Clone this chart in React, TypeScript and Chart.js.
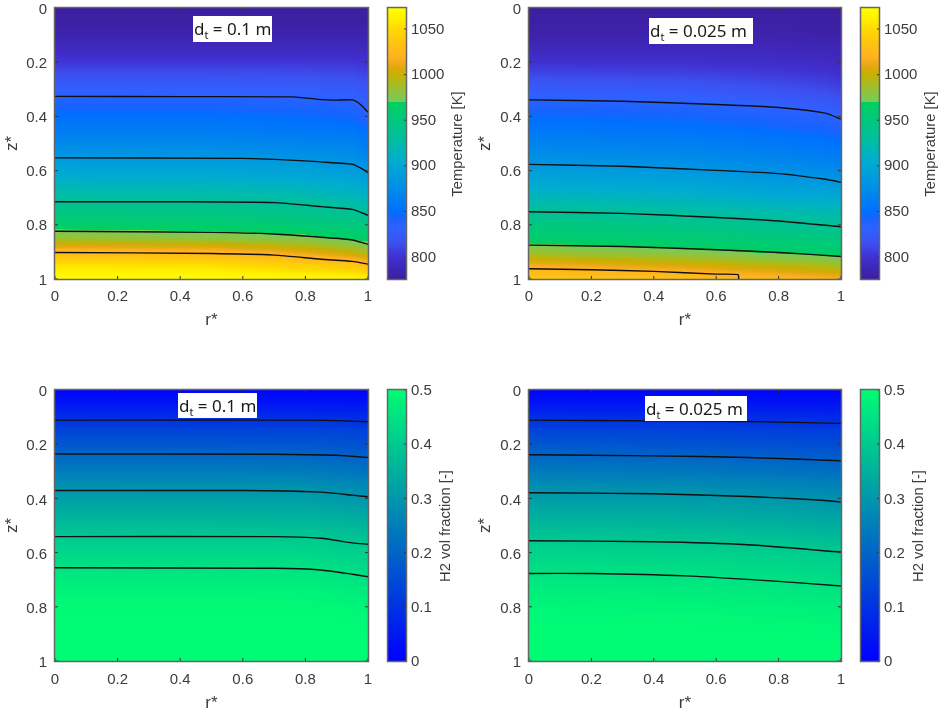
import { useEffect, useRef } from 'react'
import Chart from 'chart.js/auto'

// shared grid of the fields
const rCols = [0, 0.5, 0.8, 0.95, 1]
const zRows = [0, 0.05, 0.1, 0.15, 0.2, 0.25, 0.3, 0.35, 0.4, 0.45, 0.5, 0.55, 0.6, 0.65, 0.7, 0.75, 0.8, 0.85, 0.9, 0.95, 1]
const axisTicks = [0, 0.2, 0.4, 0.6, 0.8, 1]
const tempTicks = [800, 850, 900, 950, 1000, 1050]
const h2Ticks = [0, 0.1, 0.2, 0.3, 0.4, 0.5]
const tempRange = [776, 1073]
const h2Range = [0, 0.5]

// temperature [K], one list per entry of rCols
const tempWide = [
  [776, 778, 783, 792, 803, 816, 829, 841, 851, 861, 873, 885, 899, 914, 930, 946, 962, 985, 1025, 1055, 1072],
  [776, 778, 783, 792, 803, 816, 829, 841, 851, 861, 872, 884, 898, 913, 928, 944, 960, 981, 1022, 1053, 1072],
  [776, 778, 783, 792, 803, 815, 827, 838, 848, 857, 869, 881, 894, 909, 925, 940, 954, 976, 1009, 1043, 1069],
  [776, 778, 783, 792, 802, 813, 825, 836, 845, 855, 867, 878, 890, 905, 919, 935, 949, 966, 997, 1037, 1068],
  [776, 778, 783, 791, 800, 810, 819, 827, 837, 848, 860, 871, 884, 899, 914, 930, 948, 964, 989, 1028, 1065],
]
const tempNarrow = [
  [776, 778, 782, 790, 800, 812, 826, 838, 848, 857, 868, 878, 890, 903, 918, 934, 949, 961, 984, 1016, 1038],
  [776, 778, 782, 790, 799, 810, 823, 835, 845, 854, 864, 874, 885, 898, 912, 928, 943, 956, 975, 1006, 1032],
  [776, 778, 782, 789, 796, 806, 816, 828, 839, 848, 858, 868, 878, 890, 904, 922, 937, 951, 966, 996, 1024],
  [776, 778, 781, 788, 794, 803, 812, 823, 834, 844, 854, 864, 875, 888, 903, 920, 935, 949, 963, 991, 1019],
  [776, 778, 781, 787, 792, 800, 808, 818, 830, 841, 851, 862, 873, 887, 902, 919, 934, 948, 961, 988, 1016],
]

// H2 volume fraction
const h2Wide = [
  [0.005, 0.04, 0.09, 0.135, 0.172, 0.21, 0.245, 0.285, 0.315, 0.345, 0.375, 0.403, 0.425, 0.447, 0.468, 0.485, 0.495, 0.499, 0.5, 0.5, 0.5],
  [0.005, 0.04, 0.09, 0.135, 0.172, 0.21, 0.245, 0.284, 0.315, 0.345, 0.375, 0.402, 0.425, 0.447, 0.467, 0.485, 0.495, 0.499, 0.5, 0.5, 0.5],
  [0.005, 0.04, 0.09, 0.134, 0.171, 0.208, 0.244, 0.283, 0.314, 0.344, 0.373, 0.401, 0.424, 0.446, 0.466, 0.484, 0.494, 0.498, 0.5, 0.5, 0.5],
  [0.005, 0.04, 0.085, 0.13, 0.165, 0.198, 0.235, 0.272, 0.3, 0.333, 0.362, 0.391, 0.414, 0.434, 0.455, 0.474, 0.488, 0.496, 0.5, 0.5, 0.5],
  [0.005, 0.04, 0.083, 0.127, 0.16, 0.195, 0.228, 0.265, 0.297, 0.327, 0.357, 0.387, 0.41, 0.43, 0.449, 0.468, 0.483, 0.493, 0.498, 0.5, 0.5],
]
const h2Narrow = [
  [0.005, 0.04, 0.09, 0.135, 0.172, 0.208, 0.243, 0.28, 0.312, 0.34, 0.368, 0.397, 0.42, 0.44, 0.458, 0.475, 0.488, 0.496, 0.5, 0.5, 0.5],
  [0.005, 0.04, 0.088, 0.131, 0.165, 0.2, 0.237, 0.274, 0.306, 0.335, 0.362, 0.391, 0.415, 0.436, 0.454, 0.471, 0.485, 0.494, 0.499, 0.5, 0.5],
  [0.005, 0.04, 0.083, 0.125, 0.157, 0.192, 0.228, 0.265, 0.297, 0.326, 0.354, 0.384, 0.408, 0.428, 0.446, 0.465, 0.479, 0.49, 0.497, 0.5, 0.5],
  [0.005, 0.04, 0.08, 0.122, 0.153, 0.188, 0.222, 0.258, 0.29, 0.317, 0.345, 0.375, 0.402, 0.422, 0.44, 0.458, 0.474, 0.486, 0.495, 0.499, 0.5],
  [0.005, 0.04, 0.078, 0.12, 0.15, 0.185, 0.22, 0.255, 0.287, 0.314, 0.342, 0.372, 0.399, 0.42, 0.437, 0.455, 0.471, 0.484, 0.493, 0.498, 0.5],
]

// contour lines as [r*, z*]
const tempWideLines = [
  [[0, 0.326], [0.4, 0.327], [0.76, 0.328], [0.84, 0.337], [0.89, 0.34], [0.95, 0.339], [0.975, 0.355], [1, 0.385]],
  [[0, 0.553], [0.6, 0.555], [0.8, 0.564], [0.9, 0.572], [0.95, 0.576], [0.98, 0.593], [1, 0.608]],
  [[0, 0.715], [0.4, 0.715], [0.7, 0.718], [0.85, 0.733], [0.95, 0.743], [1, 0.765]],
  [[0, 0.824], [0.5, 0.828], [0.7, 0.834], [0.85, 0.846], [0.95, 0.856], [1, 0.872]],
  [[0, 0.902], [0.5, 0.906], [0.7, 0.912], [0.85, 0.927], [0.95, 0.935], [1, 0.945]],
]
const tempNarrowLines = [
  [[0, 0.339], [0.3, 0.344], [0.6, 0.356], [0.8, 0.367], [0.95, 0.388], [1, 0.41]],
  [[0, 0.577], [0.3, 0.584], [0.6, 0.599], [0.8, 0.611], [0.95, 0.632], [1, 0.643]],
  [[0, 0.752], [0.3, 0.758], [0.6, 0.773], [0.8, 0.786], [1, 0.807]],
  [[0, 0.875], [0.3, 0.88], [0.6, 0.892], [0.8, 0.902], [1, 0.917]],
  [[0, 0.962], [0.2, 0.966], [0.4, 0.972], [0.6, 0.982], [0.67, 0.984], [0.672, 1]],
]
const h2WideLines = [
  [[0, 0.111], [0.8, 0.111], [0.9, 0.113], [1, 0.117]],
  [[0, 0.236], [0.7, 0.237], [0.9, 0.241], [1, 0.249]],
  [[0, 0.371], [0.6, 0.371], [0.85, 0.377], [0.95, 0.388], [1, 0.394]],
  [[0, 0.541], [0.7, 0.541], [0.85, 0.547], [0.95, 0.564], [1, 0.569]],
  [[0, 0.656], [0.7, 0.658], [0.85, 0.664], [0.95, 0.68], [1, 0.689]],
]
const h2NarrowLines = [
  [[0, 0.111], [0.4, 0.114], [0.7, 0.116], [1, 0.123]],
  [[0, 0.239], [0.4, 0.243], [0.7, 0.249], [1, 0.261]],
  [[0, 0.379], [0.4, 0.383], [0.7, 0.393], [0.9, 0.404], [1, 0.413]],
  [[0, 0.556], [0.4, 0.56], [0.7, 0.571], [1, 0.598]],
  [[0, 0.677], [0.2, 0.677], [0.5, 0.686], [0.8, 0.706], [1, 0.723]],
]

// colour maps: value, r, g, b
const tempStops = [
  [776, 60, 30, 160], [800, 64, 48, 208], [815, 60, 80, 240], [830, 48, 96, 255], [845, 20, 100, 255],
  [850, 0, 112, 255], [865, 0, 128, 240], [885, 0, 152, 224], [905, 0, 172, 208], [925, 0, 188, 168],
  [950, 0, 200, 124], [969.5, 0, 208, 96], [970, 120, 204, 80], [975, 128, 200, 80], [990, 168, 188, 32],
  [1000, 200, 176, 0], [1008, 224, 168, 16], [1018, 255, 176, 32], [1035, 255, 196, 16], [1050, 255, 217, 0],
  [1060, 255, 238, 0], [1073, 255, 255, 0],
]
const h2Stops = [[0, 0, 0, 255], [0.5, 0, 252, 116]]

const axisColor = '#3c3c3c'
const frameColor = '#666666'
const tickFont = { family: '"Liberation Sans", Arial, sans-serif', size: 15, lineHeight: 1 }
const titleFont = { family: '"Liberation Sans", Arial, sans-serif', size: 17, lineHeight: 1 }

function colorAt(stops: number[][], v: number) {
  if (v <= stops[0][0]) return stops[0].slice(1)
  for (let i = 1; i < stops.length; i++) {
    if (v <= stops[i][0]) {
      const a = stops[i - 1]
      const b = stops[i]
      const t = (v - a[0]) / (b[0] - a[0])
      return [a[1] + (b[1] - a[1]) * t, a[2] + (b[2] - a[2]) * t, a[3] + (b[3] - a[3]) * t]
    }
  }
  return stops[stops.length - 1].slice(1)
}

function locate(list: number[], v: number) {
  let i = 0
  while (i < list.length - 2 && v > list[i + 1]) i++
  const t = Math.max(0, Math.min(1, (v - list[i]) / (list[i + 1] - list[i])))
  return [i, t]
}

// paints the field through the chart's own scales, with interpolated shading
const fieldPlugin = (cols: number[][], stops: number[][]) => ({
  id: 'field',
  beforeDatasetsDraw(chart: any) {
    const { left, top, right, bottom } = chart.chartArea
    const x0 = Math.round(left)
    const y0 = Math.round(top)
    const w = Math.round(right) - x0
    const h = Math.round(bottom) - y0
    const img = chart.ctx.createImageData(w, h)
    for (let py = 0; py < h; py++) {
      const [j, tz] = locate(zRows, chart.scales.y.getValueForPixel(y0 + py + 0.5))
      for (let px = 0; px < w; px++) {
        const [i, tr] = locate(rCols, chart.scales.x.getValueForPixel(x0 + px + 0.5))
        const a = cols[i][j] + (cols[i][j + 1] - cols[i][j]) * tz
        const b = cols[i + 1][j] + (cols[i + 1][j + 1] - cols[i + 1][j]) * tz
        const c = colorAt(stops, a + (b - a) * tr)
        const k = (py * w + px) * 4
        img.data[k] = c[0]
        img.data[k + 1] = c[1]
        img.data[k + 2] = c[2]
        img.data[k + 3] = 255
      }
    }
    chart.ctx.putImageData(img, x0, y0)
  },
  afterDatasetsDraw(chart: any) {
    const { left, top, right, bottom } = chart.chartArea
    const ctx = chart.ctx
    ctx.save()
    ctx.strokeStyle = '#333333'
    ctx.lineWidth = 1
    ctx.beginPath()
    chart.scales.x.ticks.forEach((t: any) => {
      const p = chart.scales.x.getPixelForValue(t.value)
      ctx.moveTo(p, bottom)
      ctx.lineTo(p, bottom - 3)
      ctx.moveTo(p, top)
      ctx.lineTo(p, top + 3)
    })
    chart.scales.y.ticks.forEach((t: any) => {
      const p = chart.scales.y.getPixelForValue(t.value)
      ctx.moveTo(left, p)
      ctx.lineTo(left + 3, p)
      ctx.moveTo(right, p)
      ctx.lineTo(right - 3, p)
    })
    ctx.stroke()
    ctx.strokeStyle = frameColor
    ctx.lineWidth = 1.5
    ctx.strokeRect(left - 0.5, top - 0.5, right - left + 1, bottom - top + 1)
    ctx.restore()
  },
})

const rampPlugin = (stops: number[][], title: string, titleX: number, titleY: number) => ({
  id: 'ramp',
  beforeDatasetsDraw(chart: any) {
    const { left, top, right, bottom } = chart.chartArea
    const ctx = chart.ctx
    for (let py = Math.round(top); py < Math.round(bottom); py++) {
      const c = colorAt(stops, chart.scales.y.getValueForPixel(py + 0.5))
      ctx.fillStyle = `rgb(${c[0]},${c[1]},${c[2]})`
      ctx.fillRect(left, py, right - left, 1)
    }
  },
  afterDatasetsDraw(chart: any) {
    const { left, top, right, bottom } = chart.chartArea
    const ctx = chart.ctx
    ctx.save()
    ctx.strokeStyle = '#333333'
    ctx.lineWidth = 1
    ctx.beginPath()
    chart.scales.y.ticks.forEach((t: any) => {
      const p = chart.scales.y.getPixelForValue(t.value)
      ctx.moveTo(right, p)
      ctx.lineTo(right - 2, p)
    })
    ctx.stroke()
    ctx.strokeStyle = frameColor
    ctx.lineWidth = 1.5
    ctx.strokeRect(left - 0.5, top - 0.5, right - left + 1, bottom - top + 1)
    ctx.translate(titleX, titleY)
    ctx.rotate(-Math.PI / 2)
    ctx.fillStyle = axisColor
    ctx.font = '14.8px "Liberation Sans", Arial, sans-serif'
    ctx.textAlign = 'center'
    ctx.textBaseline = 'middle'
    ctx.fillText(title, 0, 0)
    ctx.restore()
  },
})

interface PanelProps {
  left: number
  top: number
  width: number
  height: number
  plot: { left: number; right: number; top: number; bottom: number }
  cols: number[][]
  stops: number[][]
  lines: number[][][]
  labelShift: number
  tickGap: number
}

const FieldPanel = ({ left, top, width, height, plot, cols, stops, lines, labelShift, tickGap }: PanelProps) => {
  const ref = useRef<HTMLCanvasElement>(null)

  useEffect(() => {
    if (!ref.current) return
    const chart = new Chart(ref.current, {
      type: 'scatter',
      data: {
        datasets: lines.map((line) => ({
          data: line.map(([r, z]) => ({ x: r, y: z })),
          showLine: true,
          pointRadius: 0,
          borderColor: '#101010',
          borderWidth: 1.4,
          tension: 0.2,
        })),
      },
      options: {
        animation: false,
        responsive: false,
        devicePixelRatio: 1,
        layout: { padding: { left: 0, bottom: 0, top: plot.top - top, right: left + width - plot.right } },
        plugins: { legend: { display: false }, tooltip: { enabled: false } },
        scales: {
          x: {
            type: 'linear',
            min: 0,
            max: 1,
            grid: { display: false, drawTicks: false },
            border: { display: false },
            afterBuildTicks: (s: any) => { s.ticks = axisTicks.map((value) => ({ value })) },
            afterFit: (s: any) => {
              s.height = top + height - plot.bottom
              s.paddingLeft = 0
              s.paddingRight = 0
            },
            ticks: {
              color: axisColor,
              font: tickFont,
              padding: tickGap,
              autoSkip: false,
              maxRotation: 0,
              callback: (v: any) => String(v),
            },
            title: { display: true, text: 'r*', color: axisColor, font: titleFont, padding: 0 },
          },
          y: {
            type: 'linear',
            reverse: true,
            min: 0,
            max: 1,
            grid: { display: false, drawTicks: false },
            border: { display: false },
            afterBuildTicks: (s: any) => { s.ticks = axisTicks.map((value) => ({ value })) },
            afterFit: (s: any) => {
              s.width = plot.left - left
              s.paddingTop = 0
              s.paddingBottom = 0
            },
            ticks: {
              color: axisColor,
              font: tickFont,
              padding: 8,
              labelOffset: labelShift,
              autoSkip: false,
              callback: (v: any) => String(v),
            },
            title: { display: true, text: 'z*', color: axisColor, font: titleFont, padding: 4 },
          },
        },
      },
      plugins: [fieldPlugin(cols, stops)],
    } as any)
    return () => chart.destroy()
  }, [])

  return <canvas ref={ref} width={width} height={height} style={{ position: 'absolute', left, top }} />
}

interface BarProps {
  left: number
  top: number
  width: number
  height: number
  plot: { left: number; right: number; top: number; bottom: number }
  range: number[]
  ticks: number[]
  stops: number[][]
  title: string
  titleX: number
  titleY: number
  labelShift: number
}

const ColorBar = ({ left, top, width, height, plot, range, ticks, stops, title, titleX, titleY, labelShift }: BarProps) => {
  const ref = useRef<HTMLCanvasElement>(null)

  useEffect(() => {
    if (!ref.current) return
    const chart = new Chart(ref.current, {
      type: 'scatter',
      data: { datasets: [] },
      options: {
        animation: false,
        responsive: false,
        devicePixelRatio: 1,
        layout: {
          padding: { left: plot.left - left, right: 0, top: plot.top - top, bottom: top + height - plot.bottom },
        },
        plugins: { legend: { display: false }, tooltip: { enabled: false } },
        scales: {
          x: { type: 'linear', display: false, min: 0, max: 1 },
          y: {
            type: 'linear',
            position: 'right',
            min: range[0],
            max: range[1],
            grid: { display: false, drawTicks: false },
            border: { display: false },
            afterBuildTicks: (s: any) => { s.ticks = ticks.map((value) => ({ value })) },
            afterFit: (s: any) => {
              s.width = left + width - plot.right
              s.paddingTop = 0
              s.paddingBottom = 0
            },
            ticks: {
              color: axisColor,
              font: tickFont,
              padding: 5,
              labelOffset: labelShift,
              autoSkip: false,
              callback: (v: any) => String(v),
            },
          },
        },
      },
      plugins: [rampPlugin(stops, title, titleX - left, titleY - top)],
    } as any)
    return () => chart.destroy()
  }, [])

  return <canvas ref={ref} width={width} height={height} style={{ position: 'absolute', left, top }} />
}

const DiameterLabel = ({ left, top, width, height, value }: { left: number; top: number; width: number; height: number; value: string }) => (
  <div
    style={{
      position: 'absolute',
      left,
      top,
      width,
      height,
      paddingLeft: 1,
      boxSizing: 'border-box',
      lineHeight: `${height}px`,
      background: '#ffffff',
      color: '#1a1a1a',
      fontFamily: '"Noto Sans", sans-serif',
      fontSize: 17,
      whiteSpace: 'nowrap',
    }}
  >
    d<sub style={{ fontSize: 11, lineHeight: 0 }}>t</sub> = {value} m
  </div>
)

const topPlot = { top: 8, bottom: 279 }
const lowPlot = { top: 390, bottom: 661 }
const leftPlot = { left: 55, right: 368 }
const rightPlot = { left: 529, right: 841 }

export default function App() {
  return (
    <div style={{ position: 'fixed', left: 0, top: 0, width: 941, height: 714, background: '#fff', overflow: 'hidden', filter: 'blur(0.4px)' }}>
      <FieldPanel left={0} top={0} width={378} height={329} plot={{ ...leftPlot, ...topPlot }} cols={tempWide} stops={tempStops} lines={tempWideLines} labelShift={1.5} tickGap={10} />
      <FieldPanel left={473} top={0} width={378} height={329} plot={{ ...rightPlot, ...topPlot }} cols={tempNarrow} stops={tempStops} lines={tempNarrowLines} labelShift={1.5} tickGap={10} />
      <FieldPanel left={0} top={370} width={378} height={342} plot={{ ...leftPlot, ...lowPlot }} cols={h2Wide} stops={h2Stops} lines={h2WideLines} labelShift={2} tickGap={11} />
      <FieldPanel left={473} top={370} width={378} height={342} plot={{ ...rightPlot, ...lowPlot }} cols={h2Narrow} stops={h2Stops} lines={h2NarrowLines} labelShift={2} tickGap={11} />

      <ColorBar left={380} top={0} width={88} height={300} plot={{ left: 388, right: 406, ...topPlot }} range={tempRange} ticks={tempTicks} stops={tempStops} title="Temperature [K]" titleX={458} titleY={144} labelShift={0.5} />
      <ColorBar left={853} top={0} width={88} height={300} plot={{ left: 861, right: 879, ...topPlot }} range={tempRange} ticks={tempTicks} stops={tempStops} title="Temperature [K]" titleX={931} titleY={144} labelShift={0.5} />
      <ColorBar left={380} top={370} width={88} height={310} plot={{ left: 388, right: 406, ...lowPlot }} range={h2Range} ticks={h2Ticks} stops={h2Stops} title="H2 vol fraction [-]" titleX={446} titleY={526} labelShift={1} />
      <ColorBar left={853} top={370} width={88} height={310} plot={{ left: 861, right: 879, ...lowPlot }} range={h2Range} ticks={h2Ticks} stops={h2Stops} title="H2 vol fraction [-]" titleX={919} titleY={526} labelShift={1} />

      <DiameterLabel left={193} top={16} width={79} height={26} value="0.1" />
      <DiameterLabel left={649} top={18} width={104} height={26} value="0.025" />
      <DiameterLabel left={178} top={393} width={79} height={25} value="0.1" />
      <DiameterLabel left={645} top={396} width={102} height={25} value="0.025" />
    </div>
  )
}
